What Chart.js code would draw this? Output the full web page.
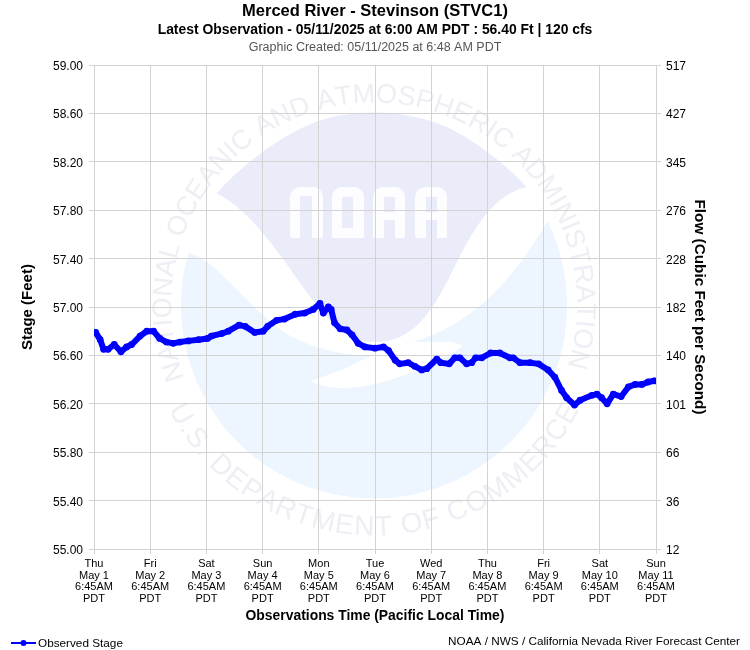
<!DOCTYPE html>
<html>
<head>
<meta charset="utf-8">
<title>Merced River - Stevinson (STVC1)</title>
<script src="https://cdn.jsdelivr.net/npm/chart.js@4"></script>
<style>
    html, body { margin: 0; padding: 0; background: #fff; }
    #wrap { position: relative; width: 750px; height: 650px; }
    canvas { display: block; }
</style>
</head>
<body>
<div id="wrap"><canvas id="stageChart" width="750" height="650"></canvas></div>
<script>
// days since Thu May 1 6:45AM
const obsDays = [0.03, 0.11, 0.17, 0.25, 0.36, 0.48, 0.58, 0.67, 0.82, 0.94, 1.06, 1.17, 1.29, 1.41, 1.53, 1.68, 1.86, 2.02, 2.09, 2.27,
    2.39, 2.58, 2.69, 2.86, 3.01, 3.09, 3.25, 3.39, 3.58, 3.75, 3.90, 4.02, 4.08, 4.17, 4.22, 4.28, 4.38, 4.50, 4.59, 4.70,
    4.82, 5.00, 5.15, 5.24, 5.36, 5.44, 5.59, 5.71, 5.83, 5.92, 6.10, 6.17, 6.32, 6.42, 6.51, 6.63, 6.72, 6.79, 6.90, 7.06,
    7.22, 7.40, 7.46, 7.58, 7.76, 7.91, 8.08, 8.20, 8.32, 8.41, 8.55, 8.65, 8.86, 8.95, 9.03, 9.13, 9.24, 9.38, 9.51, 9.63,
    9.75, 9.86, 9.97];
const obsStage = [56.79, 56.73, 56.65, 56.65, 56.69, 56.63, 56.67, 56.69, 56.76, 56.80, 56.80, 56.74, 56.71, 56.70, 56.71, 56.72, 56.73, 56.74, 56.76, 56.78,
    56.80, 56.85, 56.84, 56.79, 56.80, 56.84, 56.89, 56.90, 56.94, 56.95, 56.98, 57.03, 56.95, 57.00, 56.98, 56.87, 56.82, 56.81, 56.77, 56.70,
    56.67, 56.66, 56.67, 56.64, 56.56, 56.53, 56.54, 56.51, 56.48, 56.49, 56.57, 56.54, 56.53, 56.58, 56.58, 56.53, 56.54, 56.58, 56.58, 56.62,
    56.62, 56.58, 56.58, 56.54, 56.54, 56.53, 56.48, 56.42, 56.31, 56.25, 56.19, 56.23, 56.27, 56.28, 56.25, 56.20, 56.28, 56.26, 56.34, 56.36,
    56.36, 56.38, 56.39];

const dayNames = ['Thu', 'Fri', 'Sat', 'Sun', 'Mon', 'Tue', 'Wed', 'Thu', 'Fri', 'Sat', 'Sun'];
const dayDates = ['May 1', 'May 2', 'May 3', 'May 4', 'May 5', 'May 6', 'May 7', 'May 8', 'May 9', 'May 10', 'May 11'];
const flowTicks = [12, 36, 66, 101, 140, 182, 228, 276, 345, 427, 517];

const FONT = '"Liberation Sans", Arial, sans-serif';
const GRID = '#d3d3d3';
const BLUE = '#0000ff';
const INK = '#000';

// text bent around the logo, one character at a time
function arcText(ctx, text, cx, cy, r, midAngle, spacing, outward) {
    ctx.save();
    ctx.textAlign = 'center';
    ctx.textBaseline = 'alphabetic';
    const widths = [...text].map(c => ctx.measureText(c).width + spacing);
    const total = widths.reduce((a, b) => a + b, 0);
    let pos = -total / 2;
    [...text].forEach((c, i) => {
        const mid = pos + widths[i] / 2;
        const a = outward ? midAngle + mid / r : midAngle - mid / r;
        ctx.save();
        ctx.translate(cx + r * Math.cos(a), cy + r * Math.sin(a));
        ctx.rotate(outward ? a + Math.PI / 2 : a - Math.PI / 2);
        ctx.fillText(c, 0, 0);
        ctx.restore();
        pos += widths[i];
    });
    ctx.restore();
}

const noaaLogo = {
    id: 'noaaLogo',
    beforeDraw(chart) {
        const ctx = chart.ctx;
        const cx = 374, cy = 305.5, r = 193;
        ctx.save();
        ctx.fillStyle = '#fff';
        ctx.fillRect(0, 0, chart.width, chart.height);

        // upper part of the disc
        ctx.save();
        ctx.beginPath();
        ctx.arc(cx, cy, r, 0, Math.PI * 2);
        ctx.clip();
        ctx.fillStyle = '#ebecfa';
        ctx.beginPath();
        ctx.moveTo(216, 193);
        ctx.quadraticCurveTo(374, 30, 527, 187);
        ctx.bezierCurveTo(490, 195, 470, 235, 448, 280);
        ctx.bezierCurveTo(425, 325, 405, 342, 375, 342);
        ctx.bezierCurveTo(335, 342, 310, 295, 280, 255);
        ctx.bezierCurveTo(260, 228, 240, 205, 216, 193);
        ctx.fill();

        // lower part of the disc
        ctx.fillStyle = '#edf5fe';
        ctx.beginPath();
        ctx.moveTo(188, 253);
        ctx.bezierCurveTo(215, 258, 240, 300, 285, 333);
        ctx.bezierCurveTo(315, 350, 345, 355, 370, 356);
        ctx.bezierCurveTo(350, 367, 330, 375, 310, 381);
        ctx.bezierCurveTo(340, 397, 400, 385, 462, 347);
        ctx.bezierCurveTo(460, 340, 440, 342, 413, 342);
        ctx.bezierCurveTo(470, 325, 510, 285, 547, 222);
        ctx.lineTo(600, 222);
        ctx.lineTo(600, 520);
        ctx.lineTo(150, 520);
        ctx.lineTo(150, 253);
        ctx.closePath();
        ctx.fill();
        ctx.restore();

        // NOAA letters
        ctx.fillStyle = '#fdfdff';
        const letters = [[290, 323, 300, 312, 196, 238], [332, 363, 342, 353, 197, 228], [373, 405, 384, 395, 197, 212], [373, 405, 384, 395, 220, 238],
            [415, 447, 426, 437, 197, 212], [415, 447, 426, 437, 220, 238]];
        [[290, 323], [332, 364], [373, 405], [415, 447]].forEach(l => {
            ctx.beginPath();
            ctx.roundRect(l[0], 187, l[1] - l[0], 51, [10, 10, 2, 2]);
            ctx.fill();
        });
        ctx.fillStyle = '#ebecfa';
        letters.forEach(l => ctx.fillRect(l[2], l[4], l[3] - l[2], l[5] - l[4]));

        // seal text
        ctx.fillStyle = '#eeeef5';
        ctx.font = '27px ' + FONT;
        arcText(ctx, 'NATIONAL OCEANIC AND ATMOSPHERIC ADMINISTRATION', cx, cy, 203, -Math.PI / 2 - 0.03, 0, true);
        ctx.font = '28px ' + FONT;
        arcText(ctx, 'U.S. DEPARTMENT OF COMMERCE', cx, cy, 230, Math.PI / 2, 1.2, false);
        ctx.restore();
    }
};

const chartNotes = {
    id: 'chartNotes',
    afterDraw(chart) {
        const ctx = chart.ctx;
        ctx.save();
        ctx.textBaseline = 'middle';

        ctx.font = '12.5px ' + FONT;
        ctx.fillStyle = '#555';
        ctx.textAlign = 'center';
        ctx.fillText('Graphic Created: 05/11/2025 at 6:48 AM PDT', 375, 48);

        ctx.font = '11.75px ' + FONT;
        ctx.fillStyle = INK;
        ctx.textAlign = 'right';
        ctx.fillText('NOAA / NWS / California Nevada River Forecast Center', 740, 642);

        // legend entry
        ctx.textAlign = 'left';
        ctx.fillText('Observed Stage', 38, 644);
        ctx.strokeStyle = BLUE;
        ctx.fillStyle = BLUE;
        ctx.lineWidth = 2;
        ctx.beginPath();
        ctx.moveTo(11, 643);
        ctx.lineTo(36, 643);
        ctx.stroke();
        ctx.beginPath();
        ctx.arc(23.5, 643, 3, 0, Math.PI * 2);
        ctx.fill();
        ctx.restore();
    }
};

new Chart(document.getElementById('stageChart'), {
    type: 'line',
    data: {
        datasets: [{
            label: 'Observed Stage',
            data: obsDays.map((d, i) => ({ x: d, y: obsStage[i] })),
            borderColor: BLUE,
            backgroundColor: BLUE,
            borderWidth: 6,
            borderJoinStyle: 'round',
            borderCapStyle: 'round',
            pointRadius: 3.4,
            pointBorderWidth: 0,
            tension: 0,
            yAxisID: 'y'
        }]
    },
    options: {
        responsive: false,
        animation: false,
        devicePixelRatio: 1,
        layout: { padding: 0 },
        plugins: {
            legend: { display: false },
            tooltip: { enabled: false },
            title: {
                display: true,
                text: 'Merced River - Stevinson (STVC1)',
                color: INK,
                font: { family: FONT, size: 16.5, weight: 'bold', lineHeight: 1 },
                padding: { top: 3.25, bottom: 0 }
            },
            subtitle: {
                display: true,
                text: 'Latest Observation - 05/11/2025 at 6:00 AM PDT : 56.40 Ft | 120 cfs',
                color: INK,
                font: { family: FONT, size: 13.9, weight: 'bold' },
                padding: { top: 2.5, bottom: 26.07 }
            }
        },
        scales: {
            x: {
                type: 'linear',
                min: 0,
                max: 10,
                afterFit(scale) { scale.height = 101; },
                grid: { color: GRID, tickColor: GRID, tickLength: 5 },
                border: { color: GRID },
                ticks: {
                    stepSize: 1,
                    autoSkip: false,
                    maxRotation: 0,
                    padding: 4,
                    color: INK,
                    font: { family: FONT, size: 11, lineHeight: 1.06 },
                    callback: (v) => [dayNames[v], dayDates[v], '6:45AM', 'PDT']
                },
                title: {
                    display: true,
                    text: 'Observations Time (Pacific Local Time)',
                    color: INK,
                    font: { family: FONT, size: 13.9, weight: 'bold' },
                    padding: { top: 0, bottom: 25 }
                }
            },
            y: {
                position: 'left',
                min: 55,
                max: 59,
                afterFit(scale) { scale.width = 94; },
                grid: { color: GRID, tickColor: GRID, tickLength: 5 },
                border: { color: GRID },
                ticks: {
                    stepSize: 0.4,
                    padding: 6,
                    labelOffset: 1.6,
                    color: INK,
                    font: { family: FONT, size: 12 },
                    callback: (v) => v.toFixed(2)
                },
                title: {
                    display: true,
                    text: 'Stage (Feet)',
                    color: INK,
                    font: { family: FONT, size: 15, weight: 'bold' },
                    padding: { top: 19, bottom: 0 }
                }
            },
            yFlow: {
                position: 'right',
                min: 55,
                max: 59,
                afterFit(scale) { scale.width = 94; },
                grid: { drawOnChartArea: false, color: GRID, tickColor: GRID, tickLength: 5 },
                border: { color: GRID },
                ticks: {
                    stepSize: 0.4,
                    padding: 5,
                    labelOffset: 1.6,
                    color: INK,
                    font: { family: FONT, size: 12 },
                    callback: (v, i) => flowTicks[i]
                },
                title: {
                    display: true,
                    text: 'Flow (Cubic Feet per Second)',
                    color: INK,
                    font: { family: FONT, size: 15.3, weight: 'bold' },
                    padding: { top: 42, bottom: 0 }
                }
            }
        }
    },
    plugins: [noaaLogo, chartNotes]
});
</script>
</body>
</html>
